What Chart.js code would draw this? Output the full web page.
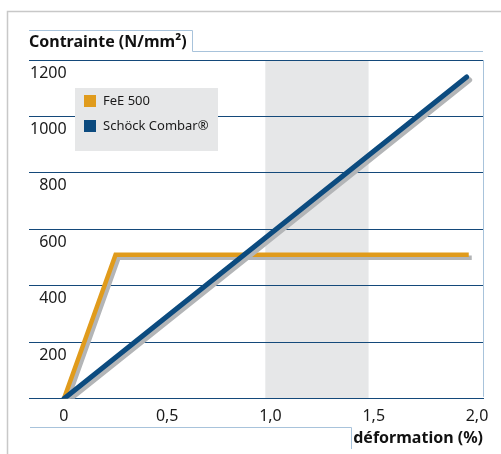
<!DOCTYPE html>
<html>
<head>
<meta charset="utf-8">
<script src="https://cdn.jsdelivr.net/npm/chart.js@4.4.0/dist/chart.umd.min.js"></script>
<style>
  html, body { margin: 0; padding: 0; background: #fff; }
  #wrap { position: relative; width: 501px; height: 454px; }
</style>
</head>
<body>
<div id="wrap"><canvas id="chart" width="501" height="454"></canvas></div>
<script>
// deformation (%) / stress (N/mm²)
const feeX = [0, 0.25, 1.96];
const feeY = [0, 510, 510];
const combarX = [0, 1.95];
const combarY = [0, 1140];
const seriesLabels = ["FeE 500", "Schöck Combar®"];
const xTicks = [0, 0.5, 1.0, 1.5, 2.0];
const yTicks = [0, 200, 400, 600, 800, 1000, 1200];
const band = [0.975, 1.475];

const FONT = "'Noto Sans', 'DejaVu Sans', sans-serif";
const ORANGE = "#e09b1c";
const BLUE = "#0c4b7f";
const GRID = "#14497a";
const LIGHT = "#a8c3db";

const toPoints = (xs, ys) => xs.map((x, i) => ({ x: x, y: ys[i] }));

// grey band behind the grid
const bandPlugin = {
  id: "band",
  beforeDraw(chart) {
    const { ctx, chartArea, scales } = chart;
    const x0 = scales.x.getPixelForValue(band[0]);
    const x1 = scales.x.getPixelForValue(band[1]);
    ctx.save();
    ctx.fillStyle = "#e6e7e8";
    ctx.fillRect(x0, chartArea.top, x1 - x0, chartArea.bottom - chartArea.top);
    ctx.restore();
  }
};

// grey drop shadow under each line
const shadowPlugin = {
  id: "shadow",
  beforeDatasetDraw(chart) {
    const ctx = chart.ctx;
    ctx.save();
    ctx.shadowColor = "#b3b5b7";
    ctx.shadowOffsetX = 3;
    ctx.shadowOffsetY = 3;
    ctx.shadowBlur = 0;
  },
  afterDatasetDraw(chart) {
    chart.ctx.restore();
  }
};

// frame, title boxes and legend
const framePlugin = {
  id: "frame",
  afterDraw(chart) {
    const { ctx, chartArea } = chart;
    ctx.save();
    // outer frame
    ctx.strokeStyle = "#c8c8c8";
    ctx.lineWidth = 1.5;
    ctx.beginPath();
    ctx.moveTo(7.5, 454);
    ctx.lineTo(7.5, 11.5);
    ctx.lineTo(501, 11.5);
    ctx.stroke();

    // light blue boxes
    ctx.strokeStyle = LIGHT;
    ctx.lineWidth = 1;
    ctx.beginPath();
    ctx.moveTo(chartArea.left, 30.5);
    ctx.lineTo(192.5, 30.5);
    ctx.lineTo(192.5, 51.5);
    ctx.lineTo(chartArea.right, 51.5);
    ctx.moveTo(chartArea.right + 0.5, chartArea.top);
    ctx.lineTo(chartArea.right + 0.5, chartArea.bottom - 2);
    ctx.moveTo(chartArea.left + 1, 427.5);
    ctx.lineTo(351.5, 427.5);
    ctx.lineTo(351.5, 449);
    ctx.stroke();

    // titles
    ctx.fillStyle = "#111";
    ctx.font = "bold 16px " + FONT;
    ctx.textBaseline = "middle";
    ctx.textAlign = "left";
    ctx.fillText("Contrainte (N/mm²)", chartArea.left, 42);
    ctx.textAlign = "right";
    ctx.fillText("déformation (%)", chartArea.right, 438);

    // legend
    const lx = 75, ly = 88;
    ctx.fillStyle = "#e6e7e8";
    ctx.fillRect(lx, ly, 143, 63);
    ctx.font = "13px " + FONT;
    ctx.textAlign = "left";
    chart.data.datasets.forEach((ds, i) => {
      const y = ly + 13 + i * 25;
      ctx.fillStyle = ds.borderColor;
      ctx.fillRect(lx + 9, y - 6, 12, 12);
      ctx.fillStyle = "#1a1a1a";
      ctx.fillText(ds.label, lx + 28, y);
    });
    ctx.restore();
  }
};

new Chart(document.getElementById("chart"), {
  type: "line",
  data: {
    datasets: [
      {
        label: seriesLabels[0],
        data: toPoints(feeX, feeY),
        borderColor: ORANGE,
        backgroundColor: ORANGE,
        borderWidth: 4.5,
        borderJoinStyle: "miter",
        order: 2
      },
      {
        label: seriesLabels[1],
        data: toPoints(combarX, combarY),
        borderColor: BLUE,
        backgroundColor: BLUE,
        borderWidth: 5,
        borderCapStyle: "round",
        order: 1
      }
    ]
  },
  options: {
    responsive: false,
    animation: false,
    events: [],
    parsing: false,
    elements: { point: { radius: 0 }, line: { tension: 0, fill: false } },
    layout: { padding: { left: 27, right: 18, top: 60, bottom: 20 } },
    plugins: { legend: { display: false }, tooltip: { enabled: false } },
    scales: {
      x: {
        type: "linear",
        min: -35 / 207,
        max: 420 / 207,
        afterBuildTicks: (s) => { s.ticks = xTicks.map((v) => ({ value: v })); },
        grid: { display: false, drawTicks: false },
        border: { display: true, color: GRID, width: 1 },
        ticks: {
          padding: 8,
          color: "#1a1a1a",
          font: { family: FONT, size: 16 },
          maxRotation: 0,
          autoSkip: false,
          callback: (v) => v === 0 ? "0" : v.toFixed(1).replace(".", ",")
        }
      },
      y: {
        type: "linear",
        min: 0,
        max: 1200,
        afterBuildTicks: (s) => { s.ticks = yTicks.map((v) => ({ value: v })); },
        grid: { color: GRID, lineWidth: 1, drawTicks: false },
        border: { display: false },
        ticks: {
          mirror: true,
          padding: 1,
          crossAlign: "far",
          labelOffset: 13,
          color: "#1a1a1a",
          font: { family: FONT, size: 16 },
          callback: (v) => v === 0 ? "" : String(v)
        }
      }
    }
  },
  plugins: [bandPlugin, shadowPlugin, framePlugin]
});
</script>
</body>
</html>
